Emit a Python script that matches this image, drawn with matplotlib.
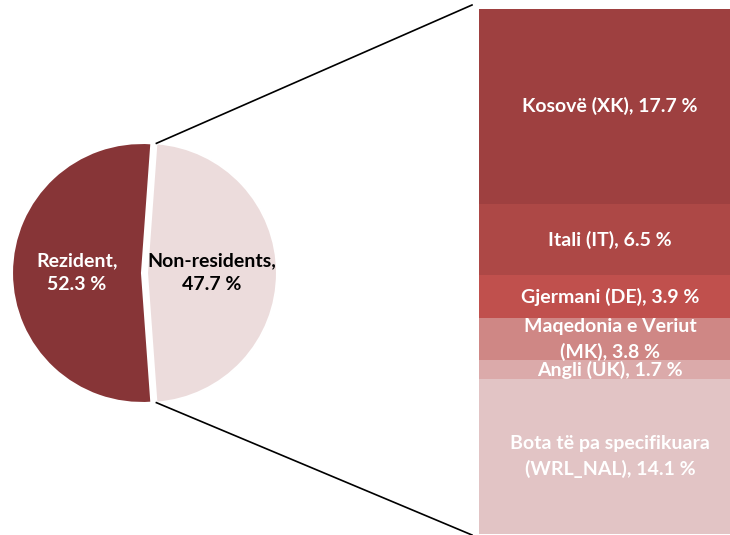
import numpy as np
import matplotlib.pyplot as plt

plt.rcParams['font.family'] = ['Lato', 'DejaVu Sans']

# pie data
pie_labels = ["Non-residents,\n47.7 %", "Rezident,\n52.3 %"]
pie_values = [47.7, 52.3]
pie_colors = ["#ecdcdc", "#873537"]
pie_text_colors = ["black", "white"]

# stacked bar data (bottom to top)
bar_labels = ["Bota të pa specifikuara\n(WRL_NAL), 14.1 %",
              "Angli (UK), 1.7 %",
              "Maqedonia e Veriut\n(MK), 3.8 %",
              "Gjermani (DE), 3.9 %",
              "Itali (IT), 6.5 %",
              "Kosovë (XK), 17.7 %"]
bar_values = [14.1, 1.7, 3.8, 3.9, 6.5, 17.7]
bar_colors = ["#e2c4c5", "#dbaaaa", "#cf8785", "#c0504d", "#ad4846", "#9e4040"]

fig = plt.figure(figsize=(7.3, 5.35), dpi=100)
ax = fig.add_axes([0, 0, 1, 1])

# pie, in pixel-like data units
cx, cy, r = 142, 262, 130
half = pie_values[0] / 100 * 180
wedges, _ = ax.pie(pie_values, colors=pie_colors, center=(cx, cy), radius=r,
                   startangle=-half, counterclock=True, explode=[5, 0],
                   wedgeprops=dict(edgecolor='white', linewidth=1.5), frame=True)
ax.set_xlim(0, 730)
ax.set_ylim(0, 535)
ax.set_aspect('equal')
ax.axis('off')

for i, w in enumerate(wedges):
    ang = np.deg2rad((w.theta1 + w.theta2) / 2)
    wx, wy = w.center
    ax.text(wx + 0.5 * r * np.cos(ang), wy + 0.5 * r * np.sin(ang), pie_labels[i],
            ha='center', va='center', fontsize=14, fontweight='bold',
            color=pie_text_colors[i], linespacing=1.5)

# stacked bar
bar_x0, bar_w, bar_bottom, bar_h = 479, 262, 1, 525
scale = bar_h / sum(bar_values)
bottom = bar_bottom
for val, col, lab in zip(bar_values, bar_colors, bar_labels):
    ax.bar(bar_x0, val * scale, width=bar_w, bottom=bottom, color=col,
           align='edge', linewidth=0)
    ax.text(bar_x0 + bar_w / 2, bottom + val * scale / 2, lab, ha='center', va='center',
            fontsize=14, fontweight='bold', color='white', linespacing=1.5, clip_on=False)
    bottom += val * scale

# connector lines from the non-resident wedge to the bar
w = wedges[0]
wx, wy = w.center
top = (wx + r * np.cos(np.deg2rad(w.theta2)), wy + r * np.sin(np.deg2rad(w.theta2)))
bot = (wx + r * np.cos(np.deg2rad(w.theta1)), wy + r * np.sin(np.deg2rad(w.theta1)))
ax.plot([top[0], bar_x0 - 7], [top[1], bar_bottom + bar_h + 4], color='black', lw=1.2)
ax.plot([bot[0], bar_x0 - 7], [bot[1], bar_bottom - 1], color='black', lw=1.2)

fig.savefig("out.png", dpi=100)
